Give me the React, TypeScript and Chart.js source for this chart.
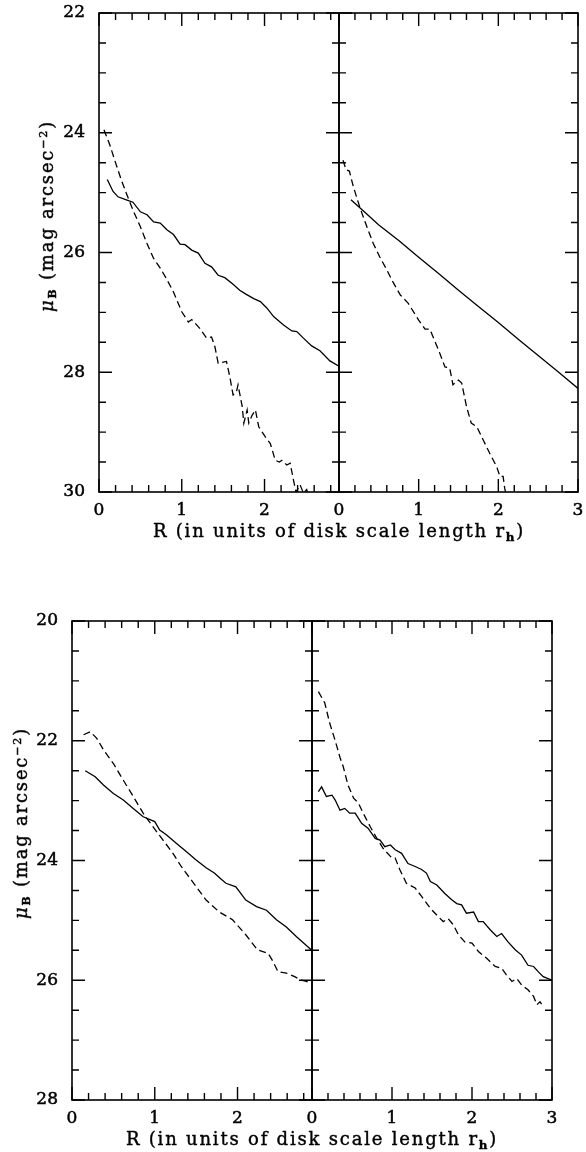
import React, { useEffect, useRef } from "react";
import { Chart, registerables } from "chart.js";
Chart.register(...registerables);

// ---------- DATA ----------
// Top figure, left panel
const TL_SOLID_R = [0.10, 0.17, 0.23, 0.33, 0.41, 0.50, 0.58, 0.66, 0.74, 0.82, 0.90, 0.98, 1.04, 1.12, 1.20, 1.28, 1.36, 1.44, 1.52, 1.62, 1.70, 1.78, 1.87, 1.95, 2.03, 2.11, 2.23, 2.33, 2.39, 2.47, 2.57, 2.67, 2.79, 2.90];
const TL_SOLID_MU = [24.78, 24.98, 25.07, 25.12, 25.16, 25.32, 25.37, 25.49, 25.51, 25.62, 25.70, 25.86, 25.87, 25.96, 26.01, 26.18, 26.24, 26.38, 26.42, 26.53, 26.63, 26.70, 26.77, 26.82, 26.93, 27.07, 27.21, 27.31, 27.32, 27.43, 27.56, 27.64, 27.81, 27.90];
const TL_DASH_R = [0.06, 0.13, 0.19, 0.27, 0.33, 0.41, 0.50, 0.58, 0.66, 0.74, 0.82, 0.90, 1.00, 1.08, 1.12, 1.16, 1.22, 1.30, 1.36, 1.40, 1.44, 1.54, 1.58, 1.62, 1.66, 1.68, 1.73, 1.75, 1.79, 1.81, 1.85, 1.89, 1.93, 2.01, 2.07, 2.13, 2.18, 2.21, 2.27, 2.31, 2.35, 2.38, 2.43, 2.47, 2.51, 2.55];
const TL_DASH_MU = [23.95, 24.20, 24.46, 24.79, 25.01, 25.29, 25.57, 25.85, 26.10, 26.26, 26.45, 26.66, 26.99, 27.16, 27.12, 27.18, 27.27, 27.43, 27.41, 27.57, 27.85, 27.82, 28.07, 28.38, 28.33, 28.21, 28.57, 28.85, 28.63, 28.85, 28.72, 28.63, 28.91, 29.08, 29.19, 29.47, 29.50, 29.47, 29.55, 29.52, 29.80, 30.00, 29.88, 30.02, 29.96, 30.15];
// Top figure, right panel
const TR_SOLID_R = [0.15, 0.30, 0.50, 0.75, 1.00, 1.25, 1.50, 1.75, 2.00, 2.25, 2.50, 2.75, 3.00];
const TR_SOLID_MU = [25.12, 25.30, 25.54, 25.80, 26.08, 26.35, 26.63, 26.90, 27.17, 27.45, 27.72, 27.99, 28.27];
const TR_DASH_R = [0.05, 0.09, 0.13, 0.18, 0.26, 0.35, 0.43, 0.51, 0.60, 0.68, 0.77, 0.87, 1.00, 1.08, 1.14, 1.25, 1.33, 1.39, 1.43, 1.50, 1.54, 1.60, 1.66, 1.73, 1.81, 1.89, 1.98, 2.02, 2.06, 2.08, 2.10];
const TR_DASH_MU = [24.46, 24.62, 24.64, 24.90, 25.24, 25.57, 25.85, 26.07, 26.29, 26.50, 26.71, 26.85, 27.13, 27.28, 27.28, 27.63, 27.91, 27.93, 28.21, 28.13, 28.18, 28.57, 28.85, 28.91, 29.13, 29.35, 29.58, 29.74, 29.74, 29.94, 30.05];
// Bottom figure, left panel
const BL_SOLID_R = [0.16, 0.28, 0.38, 0.50, 0.62, 0.74, 0.86, 1.00, 1.06, 1.14, 1.26, 1.38, 1.50, 1.62, 1.72, 1.80, 1.86, 1.98, 2.10, 2.23, 2.35, 2.47, 2.59, 2.71, 2.89];
const BL_SOLID_MU = [22.50, 22.60, 22.74, 22.88, 22.99, 23.13, 23.27, 23.35, 23.49, 23.57, 23.71, 23.85, 23.99, 24.12, 24.21, 24.31, 24.38, 24.44, 24.66, 24.77, 24.83, 24.99, 25.11, 25.27, 25.49];
const BL_DASH_R = [0.14, 0.22, 0.30, 0.38, 0.50, 0.62, 0.74, 0.86, 0.98, 1.10, 1.22, 1.32, 1.46, 1.62, 1.78, 1.94, 2.10, 2.24, 2.37, 2.43, 2.49, 2.59, 2.69, 2.77, 2.83, 2.89];
const BL_DASH_MU = [21.90, 21.85, 21.96, 22.15, 22.38, 22.66, 22.93, 23.21, 23.44, 23.66, 23.88, 24.10, 24.36, 24.66, 24.86, 24.99, 25.24, 25.49, 25.55, 25.69, 25.86, 25.88, 25.94, 26.00, 26.02, 26.05];
// Bottom figure, right panel
const BR_SOLID_R = [0.08, 0.12, 0.18, 0.25, 0.29, 0.35, 0.41, 0.47, 0.54, 0.62, 0.70, 0.79, 0.85, 0.91, 0.98, 1.04, 1.12, 1.20, 1.29, 1.37, 1.43, 1.48, 1.56, 1.66, 1.75, 1.81, 1.87, 1.93, 2.02, 2.08, 2.14, 2.23, 2.31, 2.37, 2.45, 2.54, 2.62, 2.70, 2.77, 2.83, 2.89, 3.00];
const BR_SOLID_MU = [22.85, 22.77, 22.93, 22.91, 22.99, 23.16, 23.13, 23.21, 23.21, 23.38, 23.46, 23.63, 23.66, 23.77, 23.74, 23.82, 23.88, 24.05, 24.10, 24.15, 24.21, 24.35, 24.41, 24.55, 24.66, 24.72, 24.74, 24.88, 24.86, 25.02, 25.02, 25.16, 25.27, 25.22, 25.36, 25.49, 25.58, 25.75, 25.77, 25.86, 25.94, 26.00];
const BR_DASH_R = [0.08, 0.16, 0.22, 0.29, 0.35, 0.39, 0.45, 0.52, 0.58, 0.64, 0.73, 0.81, 0.89, 1.00, 1.04, 1.10, 1.18, 1.29, 1.37, 1.48, 1.58, 1.64, 1.70, 1.77, 1.83, 1.91, 2.00, 2.08, 2.18, 2.29, 2.37, 2.43, 2.50, 2.56, 2.62, 2.70, 2.77, 2.81, 2.85, 2.89];
const BR_DASH_MU = [21.18, 21.37, 21.70, 22.00, 22.28, 22.43, 22.74, 22.96, 23.04, 23.21, 23.44, 23.63, 23.80, 23.96, 23.96, 24.16, 24.38, 24.46, 24.60, 24.80, 24.94, 25.02, 24.97, 25.08, 25.24, 25.36, 25.38, 25.52, 25.63, 25.77, 25.80, 25.91, 26.02, 25.97, 26.08, 26.16, 26.27, 26.41, 26.36, 26.44];

// Tick labels
const X_TICKS_LEFT = [0, 1, 2];
const X_TICKS_RIGHT = [0, 1, 2, 3];
const Y_TICKS_TOP = [22, 24, 26, 28, 30];
const Y_TICKS_BOTTOM = [20, 22, 24, 26, 28];

const X_TITLE_MAIN = "R (in units of disk scale length r";
const X_TITLE_SUB = "h";
const Y_TITLE_MU = "μ";
const Y_TITLE_SUB = "B";
const Y_TITLE_MAIN = " (mag arcsec";
const Y_TITLE_SUP = "−2";

const SERIF = '"DejaVu Serif", "Liberation Serif", serif';

type Curve = { r: number[]; mu: number[]; dashed: boolean };

const frameTicks = {
  id: "frameTicks",
  afterDatasetsDraw(chart: any, _args: any, opts: any) {
    const { ctx, chartArea: a, scales } = chart;
    const xs = scales.x;
    const ys = scales.y;
    ctx.save();
    ctx.strokeStyle = "#000";
    ctx.lineWidth = 1.6;
    ctx.strokeRect(a.left, a.top, a.right - a.left, a.bottom - a.top);
    ctx.lineWidth = 1.4;
    const MAJ = 13;
    const MIN = 7;
    const isMaj = (v: number, step: number) => Math.abs(v / step - Math.round(v / step)) < 1e-6;
    ctx.beginPath();
    for (let i = 0; ; i++) {
      const v = xs.min + i * opts.xMinor;
      if (v > xs.max + 1e-9) break;
      const p = xs.getPixelForValue(v);
      const L = isMaj(v, opts.xMajor) ? MAJ : MIN;
      ctx.moveTo(p, a.bottom);
      ctx.lineTo(p, a.bottom - L);
      ctx.moveTo(p, a.top);
      ctx.lineTo(p, a.top + L);
    }
    const yLo = Math.min(ys.min, ys.max);
    const yHi = Math.max(ys.min, ys.max);
    for (let i = 0; ; i++) {
      const v = yLo + i * opts.yMinor;
      if (v > yHi + 1e-9) break;
      const p = ys.getPixelForValue(v);
      const L = isMaj(v, opts.yMajor) ? MAJ : MIN;
      ctx.moveTo(a.left, p);
      ctx.lineTo(a.left + L, p);
      ctx.moveTo(a.right, p);
      ctx.lineTo(a.right - L, p);
    }
    ctx.stroke();
    ctx.restore();
  },
};

type PanelProps = {
  left: number;
  top: number;
  w: number;
  h: number;
  padTop: number;
  padRight: number;
  yAxisW: number;
  xAxisH: number;
  xMax: number;
  yMin: number;
  yMax: number;
  xTicks: number[];
  yTicks: number[];
  showY: boolean;
  curves: Curve[];
};

function Panel(p: PanelProps) {
  const ref = useRef<HTMLCanvasElement>(null);
  useEffect(() => {
    const c = ref.current;
    if (!c) return;
    const font = { family: SERIF, size: 17 };
    const tickStyle = { font, color: "#000", textStrokeColor: "#000", textStrokeWidth: 0.5 };
    const chart = new Chart(c, {
      type: "line",
      data: {
        datasets: p.curves.map((cv) => ({
          data: cv.r.map((r, i) => ({ x: r, y: cv.mu[i] })),
          borderColor: "#000",
          borderWidth: 1.3,
          borderDash: cv.dashed ? [7, 4] : [],
          pointRadius: 0,
          tension: 0,
          fill: false,
        })),
      },
      options: {
        responsive: false,
        animation: false,
        devicePixelRatio: 1,
        events: [],
        layout: { padding: { top: p.padTop, right: p.padRight, left: 0, bottom: 0 } },
        plugins: {
          legend: { display: false },
          tooltip: { enabled: false },
          frameTicks: { xMajor: 1, xMinor: 0.2, yMajor: 2, yMinor: 0.5 },
        } as any,
        scales: {
          x: {
            type: "linear",
            min: 0,
            max: p.xMax,
            grid: { display: false, drawTicks: false },
            border: { display: false },
            ticks: { ...tickStyle, padding: 8, autoSkip: false, maxRotation: 0 },
            afterBuildTicks: (s: any) => {
              s.ticks = p.xTicks.map((v) => ({ value: v }));
            },
            afterFit: (s: any) => {
              s.height = p.xAxisH;
              s.paddingLeft = 0;
              s.paddingRight = 0;
            },
          },
          y: {
            type: "linear",
            min: p.yMin,
            max: p.yMax,
            reverse: true,
            grid: { display: false, drawTicks: false },
            border: { display: false },
            ticks: { ...tickStyle, display: p.showY, padding: 14 },
            afterBuildTicks: (s: any) => {
              s.ticks = p.yTicks.map((v) => ({ value: v }));
            },
            afterFit: (s: any) => {
              s.width = p.yAxisW;
              s.paddingTop = 0;
              s.paddingBottom = 0;
            },
          },
        },
      } as any,
      plugins: [frameTicks],
    });
    return () => chart.destroy();
  }, []);
  return (
    <canvas
      ref={ref}
      width={p.w}
      height={p.h}
      style={{ position: "absolute", left: p.left, top: p.top, width: p.w, height: p.h, display: "block" }}
    />
  );
}

const titleFont: React.CSSProperties = {
  fontFamily: SERIF,
  fontSize: 18,
  letterSpacing: "1.8px",
  lineHeight: 1,
  color: "#000",
  whiteSpace: "nowrap",
  WebkitTextStroke: "0.4px #000",
};

function XTitle({ cx, baseline }: { cx: number; baseline: number }) {
  return (
    <div
      style={{
        ...titleFont,
        position: "absolute",
        left: cx - 250,
        width: 500,
        textAlign: "center",
        top: baseline - 15.2,
      }}
    >
      {X_TITLE_MAIN}
      <span style={{ fontSize: "0.66em", verticalAlign: "-0.35em", lineHeight: 0, fontWeight: "bold" }}>{X_TITLE_SUB}</span>)
    </div>
  );
}

function YTitle({ cx, cy }: { cx: number; cy: number }) {
  return (
    <div
      style={{
        ...titleFont,
        position: "absolute",
        left: cx,
        top: cy,
        transform: "translate(-50%, -50%) rotate(-90deg)",
      }}
    >
      <span style={{ fontStyle: "italic" }}>{Y_TITLE_MU}</span>
      <span style={{ fontSize: "0.6em", fontWeight: "bold", verticalAlign: "-0.3em", lineHeight: 0 }}>{Y_TITLE_SUB}</span>
      {Y_TITLE_MAIN}
      <span style={{ fontSize: "0.62em", verticalAlign: "0.55em", lineHeight: 0 }}>{Y_TITLE_SUP}</span>)
    </div>
  );
}

export default function App() {
  return (
    <div style={{ position: "absolute", left: 0, top: 0, width: 586, height: 1152, background: "#fff" }}>
      <Panel
        left={0}
        top={0}
        w={343}
        h={530}
        padTop={13}
        padRight={4}
        yAxisW={99}
        xAxisH={38}
        xMax={2.9}
        yMin={22}
        yMax={30}
        xTicks={X_TICKS_LEFT}
        yTicks={Y_TICKS_TOP}
        showY={true}
        curves={[
          { r: TL_SOLID_R, mu: TL_SOLID_MU, dashed: false },
          { r: TL_DASH_R, mu: TL_DASH_MU, dashed: true },
        ]}
      />
      <Panel
        left={330}
        top={0}
        w={256}
        h={530}
        padTop={13}
        padRight={8}
        yAxisW={9}
        xAxisH={38}
        xMax={3}
        yMin={22}
        yMax={30}
        xTicks={X_TICKS_RIGHT}
        yTicks={Y_TICKS_TOP}
        showY={false}
        curves={[
          { r: TR_SOLID_R, mu: TR_SOLID_MU, dashed: false },
          { r: TR_DASH_R, mu: TR_DASH_MU, dashed: true },
        ]}
      />
      <Panel
        left={0}
        top={600}
        w={316}
        h={540}
        padTop={21}
        padRight={4}
        yAxisW={72}
        xAxisH={40}
        xMax={2.9}
        yMin={20}
        yMax={28}
        xTicks={X_TICKS_LEFT}
        yTicks={Y_TICKS_BOTTOM}
        showY={true}
        curves={[
          { r: BL_SOLID_R, mu: BL_SOLID_MU, dashed: false },
          { r: BL_DASH_R, mu: BL_DASH_MU, dashed: true },
        ]}
      />
      <Panel
        left={303}
        top={600}
        w={283}
        h={540}
        padTop={21}
        padRight={34}
        yAxisW={9}
        xAxisH={40}
        xMax={3}
        yMin={20}
        yMax={28}
        xTicks={X_TICKS_RIGHT}
        yTicks={Y_TICKS_BOTTOM}
        showY={false}
        curves={[
          { r: BR_SOLID_R, mu: BR_SOLID_MU, dashed: false },
          { r: BR_DASH_R, mu: BR_DASH_MU, dashed: true },
        ]}
      />
      <XTitle cx={339} baseline={537} />
      <XTitle cx={312} baseline={1145} />
      <YTitle cx={47} cy={216} />
      <YTitle cx={21} cy={823} />
    </div>
  );
}
